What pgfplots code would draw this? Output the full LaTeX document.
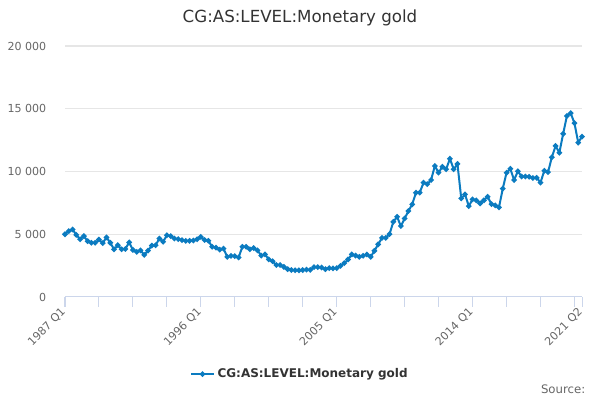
\documentclass[border=0pt]{standalone}
\usepackage{pgfplots}
\pgfplotsset{compat=1.18}
\usepackage{fontspec}
\setmainfont{DejaVu Sans}
\definecolor{lineblue}{RGB}{11,123,192}
\definecolor{gridgray}{RGB}{230,230,230}
\definecolor{axisblue}{RGB}{204,214,235}
\definecolor{ticktext}{RGB}{102,102,102}
\definecolor{titletext}{RGB}{51,51,51}
\begin{document}
\begin{tikzpicture}
\path[use as bounding box] (0pt,0pt) rectangle (450pt,300pt);
\node[font=\fontsize{12.5}{14}\selectfont, text=titletext] at (225pt,286.5pt) {CG:AS:LEVEL:Monetary gold};
\node[font=\fontsize{8.8}{10}\selectfont, text=ticktext, anchor=south east] at (442.5pt,1.5pt) {Source:};
\begin{axis}[
  at={(48.75pt,77.25pt)}, anchor=origin,
  scale only axis, width=387.75pt, height=188.25pt,
  xmin=0, xmax=137, ymin=0, ymax=20000,
  axis x line*=bottom,
  axis y line*=left,
  y axis line style={draw=none},
  x axis line style={axisblue, line width=0.75pt, -},
  scaled y ticks=false,
  ytick={0,5000,10000,15000,20000},
  yticklabels={0,5 000,10 000,15 000,20 000},
  ytick style={draw=none},
  ymajorgrids, grid style={gridgray, line width=0.75pt},
  xtick={0,36,72,108,137},
  xticklabels={1987 Q1,1996 Q1,2005 Q1,2014 Q1,2021 Q2},
  minor xtick={9,18,27,45,54,63,81,90,99,117,126,135},
  tick align=outside,
  major tick length=7.5pt,
  minor tick length=7.5pt,
  xtick style={axisblue, line width=0.75pt},
  minor x tick style={axisblue, line width=0.75pt},
  x tick label style={rotate=45, anchor=east, font=\fontsize{8.3}{10}\selectfont, text=ticktext, yshift=-1pt, xshift=1pt},
  y tick label style={font=\fontsize{8.3}{10}\selectfont, text=ticktext, xshift=-3pt},
  clip=false,
  legend style={at={(0.455,-0.307)}, anchor=center, draw=none, fill=none,
    font=\bfseries\fontsize{9}{11}\selectfont, text=titletext,
    legend cell align=left},
]
\addplot[lineblue, line width=1.5pt, mark=*, mark size=1.2pt, mark options={lineblue}]
table[x=i, y=v] {
i v
0 5000
1 5250
2 5380
3 4950
4 4600
5 4850
6 4450
7 4320
8 4320
9 4580
10 4300
11 4750
12 4320
13 3800
14 4130
15 3800
16 3830
17 4350
18 3750
19 3600
20 3720
21 3360
22 3700
23 4100
24 4120
25 4660
26 4400
27 4920
28 4850
29 4660
30 4610
31 4530
32 4480
33 4480
34 4500
35 4600
36 4790
37 4550
38 4480
39 4000
40 3930
41 3780
42 3850
43 3200
44 3280
45 3260
46 3150
47 4000
48 4000
49 3800
50 3900
51 3720
52 3300
53 3400
54 3000
55 2850
56 2550
57 2550
58 2400
59 2220
60 2150
61 2130
62 2130
63 2150
64 2180
65 2160
66 2380
67 2380
68 2350
69 2220
70 2300
71 2280
72 2300
73 2480
74 2700
75 2990
76 3390
77 3300
78 3200
79 3280
80 3390
81 3200
82 3680
83 4200
84 4710
85 4710
86 5010
87 5990
88 6390
89 5650
90 6260
91 6850
92 7380
93 8310
94 8310
95 9110
96 9000
97 9320
98 10440
99 9910
100 10380
101 10180
102 11020
103 10180
104 10600
105 7860
106 8180
107 7240
108 7780
109 7700
110 7460
111 7700
112 7990
113 7400
114 7300
115 7140
116 8630
117 9900
118 10220
119 9320
120 10020
121 9600
122 9600
123 9580
124 9480
125 9500
126 9110
127 10060
128 9950
129 11130
130 12040
131 11500
132 13000
133 14430
134 14650
135 13850
136 12300
137 12780
};
\addlegendentry{CG:AS:LEVEL:Monetary gold}
\end{axis}
\end{tikzpicture}
\end{document}
